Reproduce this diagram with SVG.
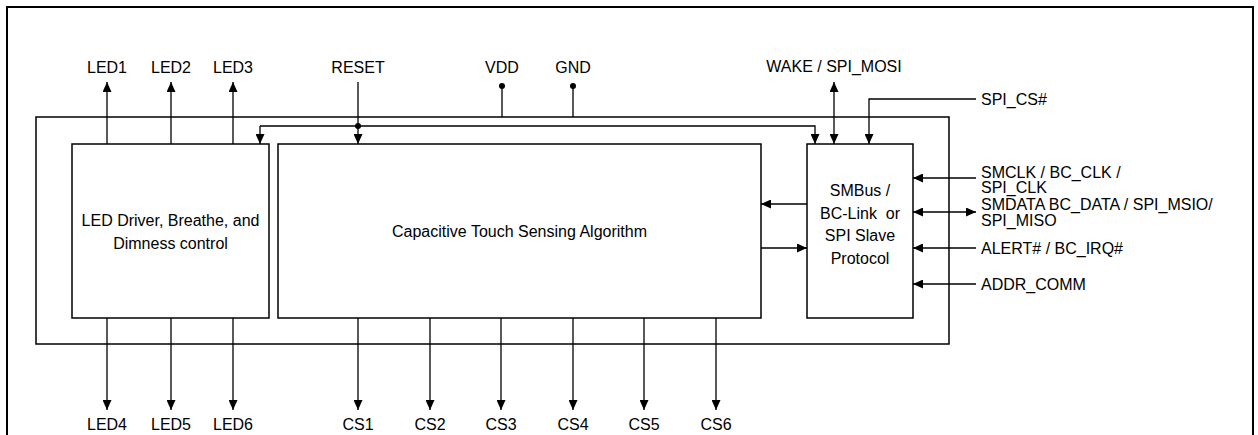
<svg xmlns="http://www.w3.org/2000/svg" width="1258" height="435" viewBox="0 0 1258 435">
<style>
.box{fill:#fff;stroke:#000;stroke-width:1.5}
.frame{fill:none;stroke:#000;stroke-width:2}
.ln{fill:none;stroke:#000;stroke-width:1.3}
.a{marker-end:url(#ah)}
.ab{marker-end:url(#ah);marker-start:url(#ah)}
text{font-family:"Liberation Sans",Arial,sans-serif;font-size:16px;fill:#000}
.c{text-anchor:middle}
.pre{white-space:pre}
</style>
<defs>
<marker id="ah" markerUnits="userSpaceOnUse" markerWidth="10" markerHeight="9" refX="10" refY="4.5" orient="auto-start-reverse">
<path d="M0,0 L10,4.5 L0,9 z" fill="#000"/>
</marker>
</defs>
<rect width="1258" height="435" fill="#fff"/>
<path class="frame" d="M7,440 V7 H1253 V440"/>
<g id="chip"><rect class="box" x="36" y="117" width="913" height="227"/></g>
<g id="led_block"><rect class="box" x="72" y="144" width="197" height="174"/>
<text class="c" x="170.5" y="226">LED Driver, Breathe, and</text>
<text class="c" x="170.5" y="249">Dimness control</text></g>
<g id="cts_block"><rect class="box" x="278" y="144" width="483" height="174"/>
<text class="c" x="519.5" y="237">Capacitive Touch Sensing Algorithm</text></g>
<g id="smbus_block"><rect class="box" x="807" y="144" width="106" height="174"/>
<text class="c" x="860" y="196">SMBus /</text>
<text class="c pre" x="860" y="218.5">BC-Link  or</text>
<text class="c" x="860" y="241">SPI Slave</text>
<text class="c" x="860" y="263.5">Protocol</text></g>
<g id="connectors">
<path class="ln a" d="M107,144 V82"/>
<path class="ln a" d="M171,144 V82"/>
<path class="ln a" d="M233,144 V82"/>
<path class="ln a" d="M358,82 V144"/>
<path class="ln a" d="M260,126 H815 V144"/>
<path class="ln a" d="M260,126 V144"/>
<circle cx="358" cy="126" r="3"/>
<path class="ln" d="M502,86 V117 M573,86 V117"/>
<circle cx="502" cy="86" r="3"/>
<circle cx="573" cy="86" r="3"/>
<path class="ln ab" d="M834,82 V144"/>
<path class="ln a" d="M976,99 H869 V144"/>
<path class="ln a" d="M976,178 H913"/>
<path class="ln ab" d="M913,212 H976"/>
<path class="ln a" d="M976,248 H913"/>
<path class="ln a" d="M976,284 H913"/>
<path class="ln a" d="M807,204 H761"/>
<path class="ln a" d="M761,248 H807"/>
<path class="ln a" d="M107,318 V410"/>
<path class="ln a" d="M171,318 V410"/>
<path class="ln a" d="M233,318 V410"/>
<path class="ln a" d="M358,318 V410"/>
<path class="ln a" d="M430,318 V410"/>
<path class="ln a" d="M501,318 V410"/>
<path class="ln a" d="M573,318 V410"/>
<path class="ln a" d="M644,318 V410"/>
<path class="ln a" d="M716,318 V410"/>
</g>
<g id="pin_labels">
<text class="c" x="107" y="73">LED1</text>
<text class="c" x="171" y="73">LED2</text>
<text class="c" x="233" y="73">LED3</text>
<text class="c" x="358" y="73">RESET</text>
<text class="c" x="502" y="73">VDD</text>
<text class="c" x="573" y="73">GND</text>
<text class="c" x="834" y="72">WAKE / SPI_MOSI</text>
<text x="981" y="105">SPI_CS#</text>
<text x="981" y="178">SMCLK / BC_CLK /</text>
<text x="981" y="193">SPI_CLK</text>
<text x="981" y="210">SMDATA BC_DATA / SPI_MSIO/</text>
<text x="981" y="226">SPI_MISO</text>
<text x="981" y="254">ALERT# / BC_IRQ#</text>
<text x="981" y="290">ADDR_COMM</text>
<text class="c" x="107" y="430">LED4</text>
<text class="c" x="171" y="430">LED5</text>
<text class="c" x="233" y="430">LED6</text>
<text class="c" x="358" y="430">CS1</text>
<text class="c" x="430" y="430">CS2</text>
<text class="c" x="501" y="430">CS3</text>
<text class="c" x="573" y="430">CS4</text>
<text class="c" x="644" y="430">CS5</text>
<text class="c" x="716" y="430">CS6</text>
</g>
</svg>
